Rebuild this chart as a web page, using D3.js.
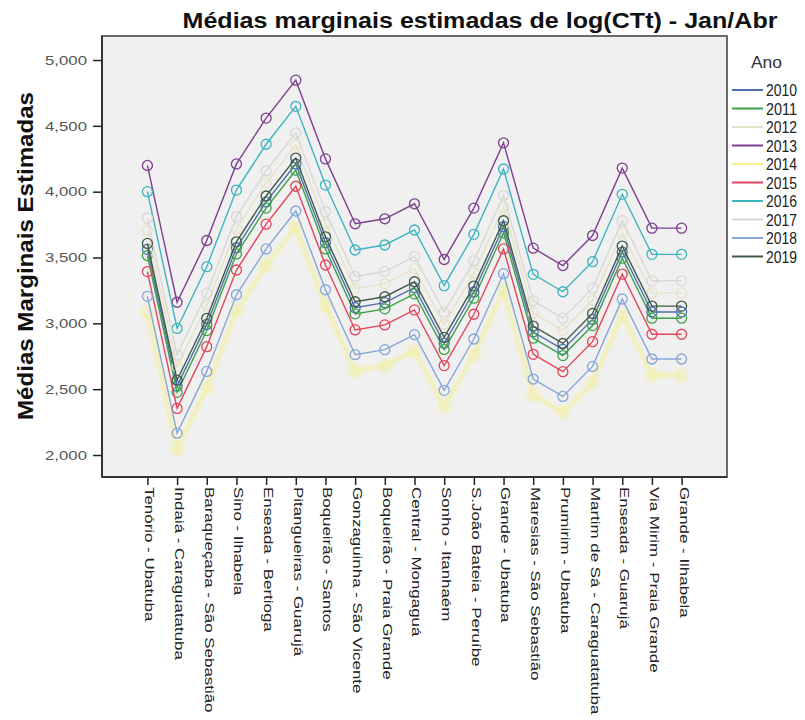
<!DOCTYPE html>
<html>
<head>
<meta charset="utf-8">
<script src="https://cdn.jsdelivr.net/npm/d3@7/dist/d3.min.js"></script>
<style>
  html, body { margin: 0; padding: 0; background: #ffffff; }
  svg { display: block; font-family: "Liberation Sans", Arial, sans-serif; }
</style>
</head>
<body>
<svg id="chart" width="805" height="720"></svg>
<script>
// Beach sites (Praia - Município)
const categories = [
  "Tenório - Ubatuba", "Indaiá - Caraguatatuba", "Baraqueçaba - São Sebastião",
  "Sino - Ilhabela", "Enseada - Bertioga", "Pitangueiras - Guarujá",
  "Boqueirão - Santos", "Gonzaguinha - São Vicente", "Boqueirão - Praia Grande",
  "Central - Mongaguá", "Sonho - Itanhaém", "S.João Bateia - Peruíbe",
  "Grande - Ubatuba", "Maresias - São Sebastião", "Prumirim - Ubatuba",
  "Martim de Sá - Caraguatatuba", "Enseada - Guarujá", "Via Mirim - Praia Grande",
  "Grande - Ilhabela"
];

const years = ["2010", "2011", "2012", "2013", "2014", "2015", "2016", "2017", "2018", "2019"];

// Estimated marginal means of log(CTt), one array per year
const v2010 = [3562, 2523, 2992, 3574, 3922, 4210, 3612, 3119, 3157, 3271, 2848, 3238, 3734, 2934, 2802, 3030, 3542, 3086, 3086];
const v2011 = [3515, 2476, 2945, 3527, 3875, 4163, 3565, 3072, 3110, 3224, 2801, 3191, 3687, 2887, 2755, 2983, 3495, 3039, 3039];
const v2012 = [3707, 2668, 3137, 3719, 4067, 4355, 3757, 3264, 3302, 3416, 2993, 3383, 3879, 3079, 2947, 3175, 3687, 3231, 3231];
const v2013 = [4199, 3160, 3629, 4211, 4559, 4847, 4249, 3756, 3794, 3908, 3485, 3875, 4371, 3571, 3439, 3667, 4179, 3723, 3723];
const v2014 = [3082, 2043, 2512, 3094, 3442, 3730, 3132, 2639, 2677, 2791, 2368, 2758, 3254, 2454, 2322, 2550, 3062, 2606, 2606];
const v2015 = [3393, 2354, 2823, 3405, 3753, 4041, 3443, 2950, 2988, 3102, 2679, 3069, 3565, 2765, 2633, 2861, 3373, 2917, 2917];
const v2016 = [4000, 2961, 3430, 4012, 4360, 4648, 4050, 3557, 3595, 3709, 3286, 3676, 4172, 3372, 3240, 3468, 3980, 3524, 3524];
const v2017 = [3799, 2760, 3229, 3811, 4159, 4447, 3849, 3356, 3394, 3508, 3085, 3475, 3971, 3171, 3039, 3267, 3779, 3323, 3323];
const v2018 = [3205, 2166, 2635, 3217, 3565, 3853, 3255, 2762, 2800, 2914, 2491, 2881, 3377, 2577, 2445, 2673, 3185, 2729, 2729];
const v2019 = [3607, 2568, 3037, 3619, 3967, 4255, 3657, 3164, 3202, 3316, 2893, 3283, 3779, 2979, 2847, 3075, 3587, 3131, 3131];

const yTicks = [2000, 2500, 3000, 3500, 4000, 4500, 5000];

const seriesValues = [v2010, v2011, v2012, v2013, v2014, v2015, v2016, v2017, v2018, v2019];
const series = years.map((y, i) => ({ year: y, values: seriesValues[i] }));

const colors = {
  "2010": "#4f6fb0", "2011": "#3ea048", "2012": "#e6e2c6", "2013": "#7d3f8e",
  "2014": "#f3ef86", "2015": "#e2455c", "2016": "#3db4c0", "2017": "#dad6d6",
  "2018": "#86a6d8", "2019": "#3f5a48"
};

const svg = d3.select("#chart");
const plot = { left: 102, right: 727, top: 36, bottom: 477 };

const x = d3.scalePoint()
  .domain(categories)
  .range([plot.left, plot.right])
  .padding(1.53);

const y = d3.scaleLinear()
  .domain([2000, 5000])
  .range([455, 60]);

const defs = svg.append("defs");
defs.append("filter").attr("id", "soft")
  .attr("x", "-10%").attr("y", "-10%").attr("width", "120%").attr("height", "120%")
  .append("feGaussianBlur").attr("stdDeviation", 1.8);

// Plot area background
svg.append("rect")
  .attr("x", plot.left).attr("y", plot.top)
  .attr("width", plot.right - plot.left).attr("height", plot.bottom - plot.top)
  .attr("fill", "#f0f0f0");

// Series lines and markers
const line = d3.line()
  .x((d, i) => x(categories[i]))
  .y(d => y(d));

const g = svg.append("g");
series.forEach(s => {
  const isYellow = s.year === "2014";
  const grp = g.append("g")
    .attr("filter", isYellow ? "url(#soft)" : null)
    .attr("opacity", isYellow ? 0.6 : 1);
  grp.append("path")
    .attr("d", line(s.values))
    .attr("fill", "none")
    .attr("stroke", colors[s.year])
    .attr("stroke-width", isYellow ? 4 : 1.4);
  grp.selectAll("circle")
    .data(s.values)
    .join("circle")
    .attr("cx", (d, i) => x(categories[i]))
    .attr("cy", d => y(d))
    .attr("r", 5)
    .attr("fill", "none")
    .attr("stroke", colors[s.year])
    .attr("stroke-width", isYellow ? 3 : 1.3);
});

// Frame
svg.append("rect")
  .attr("x", plot.left).attr("y", plot.top)
  .attr("width", plot.right - plot.left).attr("height", plot.bottom - plot.top)
  .attr("fill", "none").attr("stroke", "#6a6a6a").attr("stroke-width", 2);

// Y axis
const yAxis = svg.append("g")
  .attr("transform", `translate(${plot.left},0)`)
  .call(d3.axisLeft(y).tickValues(yTicks).tickSize(9).tickSizeOuter(0)
    .tickFormat(d3.format(",.3f")));
yAxis.select(".domain").remove();
yAxis.selectAll(".tick line").attr("stroke", "#222").attr("stroke-width", 1.5);
yAxis.selectAll(".tick text")
  .text(d => d3.format(",")(d))
  .attr("x", -15)
  .attr("font-size", 13)
  .attr("fill", "#555")
  .attr("textLength", 42)
  .attr("lengthAdjust", "spacingAndGlyphs");
svg.append("line")
  .attr("x1", plot.left).attr("x2", plot.left)
  .attr("y1", plot.top).attr("y2", plot.bottom)
  .attr("stroke", "#333").attr("stroke-width", 2);

// X axis
const xAxis = svg.append("g")
  .attr("transform", `translate(0,${plot.bottom})`)
  .call(d3.axisBottom(x).tickSize(8).tickSizeOuter(0));
xAxis.select(".domain").remove();
xAxis.selectAll(".tick line").attr("stroke", "#222").attr("stroke-width", 1.5);
xAxis.selectAll(".tick text")
  .attr("transform", "rotate(90)")
  .attr("x", 10)
  .attr("y", -2)
  .attr("dy", "0.35em")
  .attr("text-anchor", "start")
  .attr("font-size", 13)
  .attr("fill", "#222")
  .each(function () {
    const len = this.getComputedTextLength();
    d3.select(this).attr("textLength", len * 1.3).attr("lengthAdjust", "spacingAndGlyphs");
  });
svg.append("line")
  .attr("x1", plot.left).attr("x2", plot.right)
  .attr("y1", plot.bottom).attr("y2", plot.bottom)
  .attr("stroke", "#333").attr("stroke-width", 2);

// Title
svg.append("text")
  .attr("x", 480).attr("y", 28)
  .attr("text-anchor", "middle")
  .attr("font-size", 22)
  .attr("font-weight", "bold")
  .attr("fill", "#111")
  .attr("textLength", 595)
  .attr("lengthAdjust", "spacingAndGlyphs")
  .text("Médias marginais estimadas de log(CTt) - Jan/Abr");

// Y axis title
svg.append("text")
  .attr("transform", "translate(33,256) rotate(-90)")
  .attr("text-anchor", "middle")
  .attr("font-size", 22)
  .attr("font-weight", "bold")
  .attr("fill", "#111")
  .attr("textLength", 328)
  .attr("lengthAdjust", "spacingAndGlyphs")
  .text("Médias Marginais Estimadas");

// Legend
const legend = svg.append("g");
legend.append("text")
  .attr("x", 751).attr("y", 68)
  .attr("font-size", 16)
  .attr("fill", "#333")
  .attr("textLength", 31)
  .attr("lengthAdjust", "spacingAndGlyphs")
  .text("Ano");
years.forEach((yr, i) => {
  const cy = 90 + i * 18.5;
  legend.append("line")
    .attr("x1", 732).attr("x2", 763)
    .attr("y1", cy).attr("y2", cy)
    .attr("stroke", colors[yr]).attr("stroke-width", 2);
  legend.append("text")
    .attr("x", 766).attr("y", cy + 6)
    .attr("font-size", 17)
    .attr("fill", "#222")
    .attr("textLength", 31)
    .attr("lengthAdjust", "spacingAndGlyphs")
    .text(yr);
});
</script>
</body>
</html>
